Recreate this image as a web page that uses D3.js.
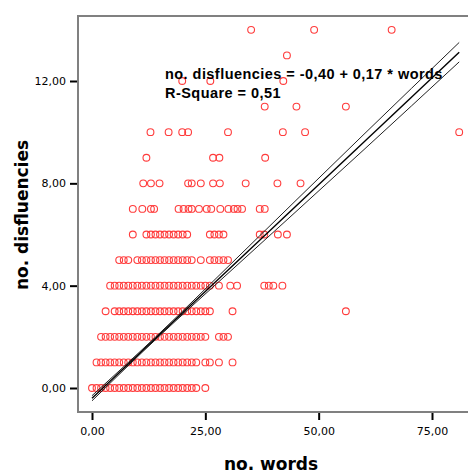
<!DOCTYPE html>
<html><head><meta charset="utf-8">
<script src="https://cdn.jsdelivr.net/npm/d3@7"></script>
<style>
html,body{margin:0;padding:0;background:#fff;}
svg{display:block;}
</style></head>
<body>
<svg id="chart" width="468" height="473"></svg>
<script>
// ---- data: words per observation, grouped by number of disfluencies ----
const disflRows = [0,1,2,3,4,5,6,7,8,9,10,11,12,13,14];
const words_d0  = [0,1,2,3,4,5,6,7,8,9,10,11,12,13,14,15,16,17,18,19,20,21,22,23,25];
const words_d1  = [1,2,3,4,5,6,7,8,9,10,11,12,13,14,15,16,17,18,19,20,21,22,23,25,26,28,31];
const words_d2  = [2,3,4,5,6,7,8,9,10,11,12,13,14,15,16,17,18,19,20,21,22,23,24,25,28,29,30];
const words_d3  = [3,5,6,7,8,9,10,11,12,13,14,15,16,17,18,19,20,21,22,23,24,25,26,31,56];
const words_d4  = [4,5,6,7,8,9,10,11,12,13,14,15,16,17,18,19,20,21,22,23,24,25,26,28,30.5,32,38,39,40,42];
const words_d5  = [6,7,8,10,11,12,13,14,15,16,17,18,19,20,21,22,24,26,27,28,29,30];
const words_d6  = [9,12,13,14,15,16,17,18,19,20,21,26,27,28,29,37,38,41,43];
const words_d7  = [9,11.1,13,13.7,19.1,20.2,21.3,22,23.6,25.3,26.3,28.3,30.1,31.3,32.1,33.1,37,38.1];
const words_d8  = [11.3,13,14.9,21.2,22,24,26.7,28.2,33.9,40.9,46];
const words_d9  = [12,26.7,28.1,38.2];
const words_d10 = [12.9,16.9,19.9,21.2,30,42.1,47,81];
const words_d11 = [38.1,45.1,56];
const words_d12 = [19.9,26.1,42.2];
const words_d13 = [43];
const words_d14 = [35.1,49,66.1];
const wordsByRow = [words_d0,words_d1,words_d2,words_d3,words_d4,words_d5,words_d6,words_d7,
                    words_d8,words_d9,words_d10,words_d11,words_d12,words_d13,words_d14];

// regression fit and confidence band half-widths
const fitIntercept = -0.40;
const fitSlope = 0.167;
const fitRange = [0, 81];
const ciWords = [0, 15, 30, 45, 60, 81];
const ciHalf  = [0.10, 0.05, 0.13, 0.22, 0.30, 0.38];

const xTicks = [0, 25, 50, 75];
const yTicks = [0, 4, 8, 12];
const fmt = v => d3.format(".2f")(v).replace(".", ",");
const equationText = "no. disfluencies = -0,40 + 0,17 * words";
const rSquareText = "R-Square = 0,51";
const xTitle = "no. words";
const yTitle = "no. disfluencies";

// ---- drawing ----
const svg = d3.select("#chart");
const x = d3.scaleLinear().domain([0, 75]).range([92, 432]);
const y = d3.scaleLinear().domain([0, 12]).range([388, 81]);

const frame = {left: 78, top: 16, bottom: 412, right: 470};

// frame
svg.append("path")
  .attr("d", `M${frame.right},${frame.top}H${frame.left}V${frame.bottom}H${frame.right}`)
  .attr("fill", "none").attr("stroke", "#808080").attr("stroke-width", 2);

// points
const points = [];
disflRows.forEach((d, i) => wordsByRow[i].forEach(w => points.push({w, d})));
svg.append("g").selectAll("circle").data(points).join("circle")
  .attr("cx", p => x(p.w)).attr("cy", p => y(p.d)).attr("r", 3.4)
  .attr("fill", "none").attr("stroke", "#ff3c3c").attr("stroke-width", 1.1);

// fit + CI lines
const fit = w => fitIntercept + fitSlope * w;
const ciPts = ciWords.map((w, i) => ({w, h: ciHalf[i]}));
const lineGen = d3.line().curve(d3.curveMonotoneX);
const lg = svg.append("g").attr("fill", "none");
lg.append("path").attr("d", lineGen(ciPts.map(p => [x(p.w), y(fit(p.w) + p.h)])))
  .attr("stroke", "#222").attr("stroke-width", 1);
lg.append("path").attr("d", lineGen(ciPts.map(p => [x(p.w), y(fit(p.w) - p.h)])))
  .attr("stroke", "#222").attr("stroke-width", 1);
lg.append("path").attr("d", lineGen(fitRange.map(w => [x(w), y(fit(w))])))
  .attr("stroke", "#000").attr("stroke-width", 1.4);

// axes
const yAxis = svg.append("g").attr("transform", "translate(77,0)")
  .call(d3.axisLeft(y).tickValues(yTicks).tickFormat(fmt).tickSize(7).tickPadding(4));
const xAxis = svg.append("g").attr("transform", `translate(0,${frame.bottom + 1})`)
  .call(d3.axisBottom(x).tickValues(xTicks).tickFormat(fmt).tickSize(7).tickPadding(7));
[yAxis, xAxis].forEach(a => {
  a.select(".domain").remove();
  a.selectAll(".tick line").attr("stroke", "#000").attr("stroke-width", 2);
  a.selectAll(".tick text").attr("fill", "#000")
    .style("font-family", "'DejaVu Sans', sans-serif").style("font-size", "11px");
});

// equation
const eq = svg.append("g").style("font-family", "'Liberation Sans', Arial, sans-serif")
  .style("font-size", "14.5px").style("font-weight", "bold").style("letter-spacing", "0.45px")
  .attr("fill", "#000");
eq.append("text").attr("x", 165).attr("y", 79).text(equationText);
eq.append("text").attr("x", 165).attr("y", 98).text(rSquareText);

// titles
svg.append("text").attr("x", 271).attr("y", 470).attr("text-anchor", "middle")
  .style("font-family", "'DejaVu Sans', sans-serif").style("font-size", "17px").style("font-weight", "bold")
  .text(xTitle);
svg.append("text").attr("transform", "translate(28,215) rotate(-90)").attr("text-anchor", "middle")
  .style("font-family", "'DejaVu Sans', sans-serif").style("font-size", "17px").style("font-weight", "bold")
  .text(yTitle);
</script>
</body></html>
